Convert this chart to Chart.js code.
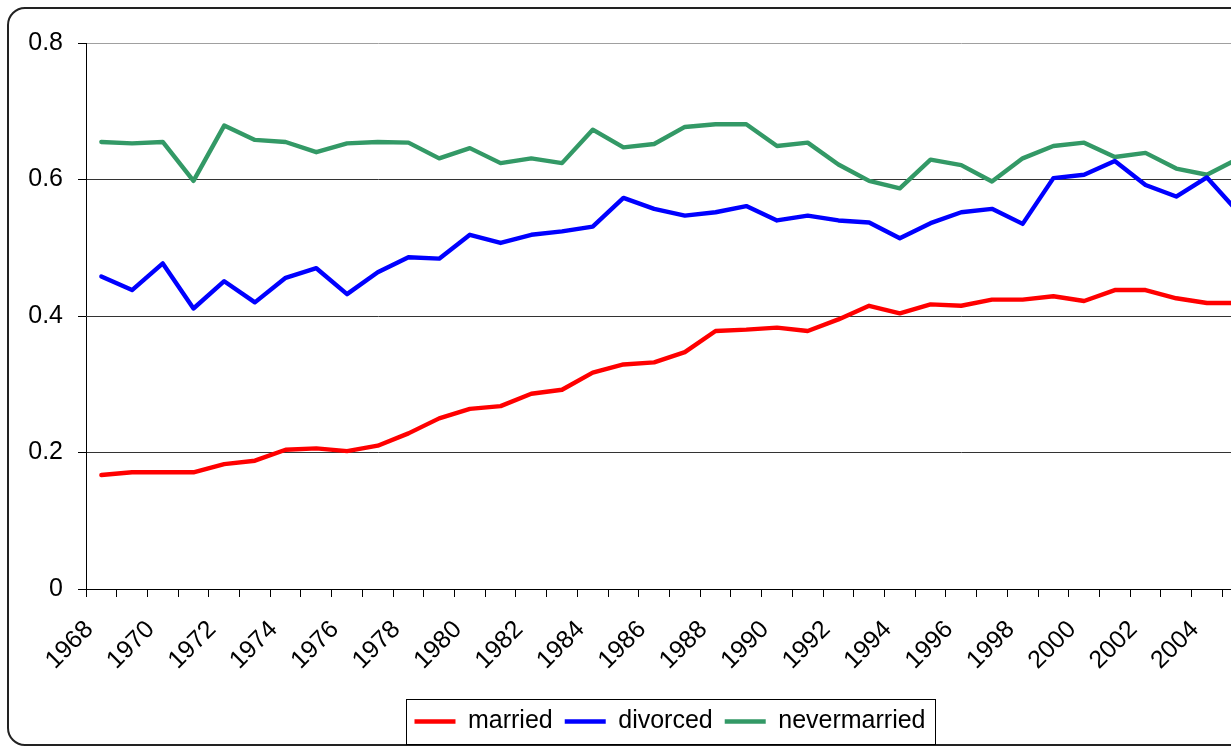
<!DOCTYPE html>
<html>
<head>
<meta charset="utf-8">
<script src="https://cdn.jsdelivr.net/npm/chart.js@4.4.0/dist/chart.umd.min.js"></script>
<style>
    html, body { margin: 0; padding: 0; background: #fff; overflow: hidden; }
    body { width: 1231px; height: 747px; position: relative; }
    .frame {
        position: absolute; left: 7px; top: 7px;
        width: 1330px; height: 735px;
        border: 2px solid #222; border-radius: 18px;
    }
    #chart { position: absolute; left: 0; top: 0; }
</style>
</head>
<body>
<div class="frame"></div>
<canvas id="chart" width="1340" height="747"></canvas>
<script>
// Chart data
const years = [
    '1968', '1969', '1970', '1971', '1972', '1973', '1974', '1975', '1976', '1977',
    '1978', '1979', '1980', '1981', '1982', '1983', '1984', '1985', '1986', '1987',
    '1988', '1989', '1990', '1991', '1992', '1993', '1994', '1995', '1996', '1997',
    '1998', '1999', '2000', '2001', '2002', '2003', '2004', '2005'
];
const married = [
    0.167, 0.171, 0.171, 0.171, 0.183, 0.188, 0.204, 0.206, 0.202, 0.210,
    0.228, 0.250, 0.264, 0.268, 0.286, 0.292, 0.317, 0.329, 0.332, 0.347,
    0.378, 0.380, 0.383, 0.378, 0.395, 0.415, 0.404, 0.417, 0.415, 0.424,
    0.424, 0.429, 0.422, 0.438, 0.438, 0.426, 0.419, 0.419
];
const divorced = [
    0.458, 0.438, 0.477, 0.411, 0.451, 0.420, 0.456, 0.470, 0.432, 0.464,
    0.486, 0.484, 0.519, 0.507, 0.519, 0.524, 0.531, 0.573, 0.557, 0.547,
    0.552, 0.561, 0.540, 0.547, 0.540, 0.537, 0.514, 0.536, 0.552, 0.557,
    0.535, 0.602, 0.607, 0.627, 0.592, 0.575, 0.603, 0.553
];
const neverMarried = [
    0.655, 0.653, 0.655, 0.598, 0.679, 0.658, 0.655, 0.640, 0.653, 0.655,
    0.654, 0.631, 0.646, 0.624, 0.631, 0.624, 0.673, 0.647, 0.652, 0.677,
    0.681, 0.681, 0.649, 0.654, 0.622, 0.598, 0.587, 0.629, 0.621, 0.597,
    0.631, 0.649, 0.654, 0.633, 0.639, 0.616, 0.607, 0.630
];
const yTicks = [0, 0.2, 0.4, 0.6, 0.8];

const FONT = '"Liberation Sans", Arial, sans-serif';

// Legend border (Excel style box round the legend items)
const legendFrame = {
    id: 'legendFrame',
    afterDraw(chart) {
        const boxes = chart.legend && chart.legend.legendHitBoxes;
        if (!boxes || !boxes.length) return;
        const left = Math.min(...boxes.map(b => b.left)) - 8;
        const right = Math.max(...boxes.map(b => b.left + b.width)) + 10;
        const top = Math.min(...boxes.map(b => b.top)) - 10;
        const bottom = Math.max(...boxes.map(b => b.top + b.height)) + 10;
        const ctx = chart.ctx;
        ctx.save();
        ctx.strokeStyle = '#000';
        ctx.lineWidth = 1;
        ctx.strokeRect(Math.round(left) + 0.5, Math.round(top) + 0.5,
            Math.round(right - left), Math.round(bottom - top));
        ctx.restore();
    }
};

function makeSeries(label, data, color) {
    return {
        label: label,
        data: data,
        borderColor: color,
        backgroundColor: color,
        borderWidth: 4.4,
        borderJoinStyle: 'round',
        borderCapStyle: 'round',
        pointRadius: 0,
        tension: 0,
        fill: false
    };
}

new Chart(document.getElementById('chart'), {
    type: 'line',
    data: {
        labels: years,
        datasets: [
            makeSeries('married', married, '#ff0000'),
            makeSeries('divorced', divorced, '#0000ff'),
            makeSeries('nevermarried', neverMarried, '#339966')
        ]
    },
    options: {
        responsive: false,
        animation: false,
        events: [],
        layout: { padding: { left: 7, right: 7, top: 43, bottom: 3 } },
        plugins: {
            tooltip: { enabled: false },
            legend: {
                position: 'bottom',
                labels: {
                    usePointStyle: true,
                    pointStyleWidth: 41,
                    pointStyle: 'line',
                    padding: 12,
                    color: '#000',
                    font: { family: FONT, size: 25 }
                }
            }
        },
        scales: {
            x: {
                type: 'category',
                offset: true,
                afterFit(scale) { scale.height = 108; },
                grid: {
                    offset: true,
                    drawOnChartArea: false,
                    drawTicks: true,
                    tickLength: 8,
                    tickColor: '#000',
                    color: '#000'
                },
                border: { color: '#000', width: 1 },
                ticks: {
                    autoSkip: false,
                    minRotation: 45,
                    maxRotation: 45,
                    padding: 18,
                    labelOffset: -12,
                    color: '#000',
                    font: { family: FONT, size: 25 },
                    callback: (v, i) => (i % 2 === 0 ? years[i] : '')
                }
            },
            y: {
                min: 0,
                max: 0.8,
                afterFit(scale) { scale.width = 79; },
                afterBuildTicks(scale) { scale.ticks = yTicks.map(v => ({ value: v })); },
                grid: {
                    color: ctx => (ctx.tick && ctx.tick.value === 0.8 ? '#a0a0a0' : '#333'),
                    tickColor: '#000',
                    tickLength: 8,
                    lineWidth: 1
                },
                border: { color: '#000', width: 1 },
                ticks: {
                    padding: 15,
                    color: '#000',
                    font: { family: FONT, size: 25 },
                    callback: v => String(Math.round(v * 10) / 10)
                }
            },
            // keeps room on the right, as in the original plot area
            spare: {
                type: 'linear',
                position: 'right',
                afterFit(scale) { scale.width = 80; },
                grid: { display: false },
                border: { display: false },
                ticks: { display: false }
            }
        }
    },
    plugins: [legendFrame]
});
</script>
</body>
</html>
